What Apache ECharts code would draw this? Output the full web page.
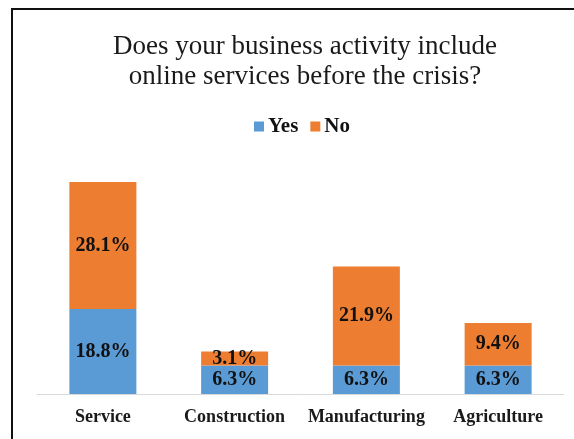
<!DOCTYPE html>
<html>
<head>
<meta charset="utf-8">
<script src="https://cdn.jsdelivr.net/npm/echarts@6/dist/echarts.min.js"></script>
<style>
  html, body { margin: 0; padding: 0; background: #ffffff; }
  #chart { width: 574px; height: 439px; }
</style>
</head>
<body>
<div id="chart"></div>
<script>
// Share of businesses offering online services before the crisis, by sector
const categories = ['Service', 'Construction', 'Manufacturing', 'Agriculture'];
const yesValues = [18.8, 6.3, 6.3, 6.3];
const noValues = [28.1, 3.1, 21.9, 9.4];
const seriesNames = ['Yes', 'No'];

const serif = '"Liberation Serif", "Times New Roman", serif';
const chart = echarts.init(document.getElementById('chart'));

const valueLabel = {
  show: true,
  position: 'inside',
  color: '#111',
  fontFamily: serif,
  fontWeight: 'bold',
  fontSize: 20,
  formatter: p => p.value.toFixed(1) + '%'
};

chart.setOption({
  backgroundColor: '#ffffff',
  animation: false,
  title: {
    text: 'Does your business activity include\nonline services before the crisis?',
    left: 300,
    textAlign: 'center',
    top: 27,
    textStyle: {
      fontFamily: serif,
      fontWeight: 'normal',
      fontSize: 27,
      lineHeight: 30,
      color: '#1a1a1a'
    }
  },
  legend: {
    data: seriesNames,
    top: 111,
    left: 249,
    itemWidth: 10,
    itemHeight: 10,
    itemGap: 12,
    icon: 'rect',
    textStyle: {
      fontFamily: serif,
      fontWeight: 'bold',
      fontSize: 21,
      color: '#111',
      padding: [0, 0, 0, -1]
    }
  },
  grid: { left: 37, right: 10, top: 168, bottom: 45, containLabel: false },
  xAxis: {
    type: 'category',
    data: categories,
    axisLine: { lineStyle: { color: '#d9d9d9', width: 1 } },
    axisTick: { show: false },
    axisLabel: {
      interval: 0,
      hideOverlap: false,
      margin: 14,
      fontFamily: serif,
      fontWeight: 'bold',
      fontSize: 18,
      color: '#1a1a1a'
    }
  },
  yAxis: {
    type: 'value',
    min: 0,
    max: 50,
    show: false,
    splitLine: { show: false }
  },
  series: [
    {
      name: seriesNames[0],
      type: 'bar',
      stack: 'total',
      data: yesValues,
      barWidth: 67,
      itemStyle: { color: '#5b9bd5' },
      label: valueLabel
    },
    {
      name: seriesNames[1],
      type: 'bar',
      stack: 'total',
      data: noValues,
      barWidth: 67,
      itemStyle: { color: '#ed7d31' },
      label: valueLabel
    }
  ],
  graphic: [
    {
      type: 'polyline',
      shape: { points: [[12, 439], [12, 9], [574, 9]] },
      style: { stroke: '#111', lineWidth: 2, fill: null },
      silent: true
    }
  ]
});
</script>
</body>
</html>
